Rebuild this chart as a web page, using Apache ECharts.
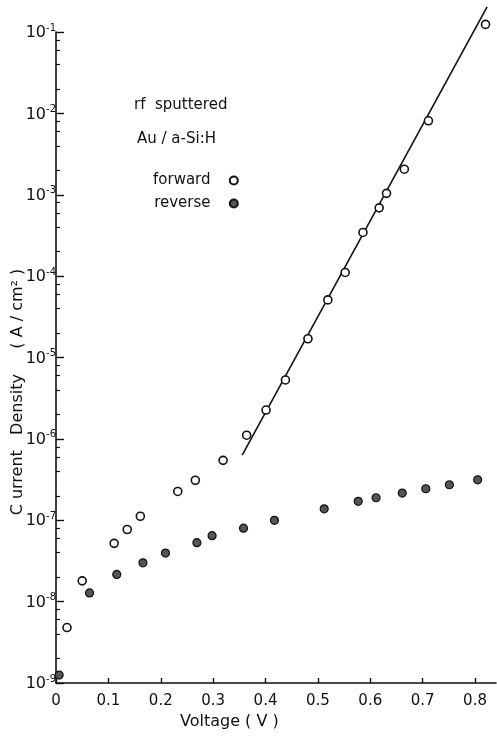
<!DOCTYPE html>
<html><head><meta charset="utf-8">
<script src="https://cdn.jsdelivr.net/npm/echarts@6/dist/echarts.min.js"></script>
<style>html,body{margin:0;padding:0;background:#fff}#c{width:497px;height:737px}</style>
</head><body><div id="c"></div>
<script>
// Forward bias (open circles)
const forwardV = [0.021, 0.050, 0.111, 0.136, 0.161, 0.2325, 0.266, 0.319, 0.364, 0.401, 0.438, 0.481, 0.519, 0.552, 0.586, 0.617, 0.631, 0.665, 0.711, 0.820];
const forwardJ = [4.8e-9, 1.8e-8, 5.2e-8, 7.7e-8, 1.12e-7, 2.26e-7, 3.1e-7, 5.45e-7, 1.11e-6, 2.26e-6, 5.3e-6, 1.7e-5, 5.1e-5, 1.11e-4, 3.44e-4, 6.9e-4, 1.04e-3, 2.06e-3, 8.1e-3, 0.124];
// Reverse bias (filled circles)
const reverseV = [0.006, 0.064, 0.116, 0.166, 0.209, 0.269, 0.298, 0.358, 0.417, 0.512, 0.577, 0.611, 0.661, 0.706, 0.751, 0.805];
const reverseJ = [1.25e-9, 1.28e-8, 2.16e-8, 3.0e-8, 3.95e-8, 5.3e-8, 6.46e-8, 8.0e-8, 9.97e-8, 1.38e-7, 1.71e-7, 1.89e-7, 2.16e-7, 2.44e-7, 2.73e-7, 3.14e-7];
// Fitted straight line (ends)
const fitV = [0.3555, 0.823];
const fitJ = [6.3e-7, 0.203];
// Tick labels
const xTicks = [0, 0.1, 0.2, 0.3, 0.4, 0.5, 0.6, 0.7, 0.8];
const xTickLabels = ['0', '0.1', '0.2', '0.3', '0.4', '0.5', '0.6', '0.7', '0.8'];
const yDecades = [1e-9, 1e-8, 1e-7, 1e-6, 1e-5, 1e-4, 1e-3, 1e-2, 1e-1];
const yExponents = ['-9', '-8', '-7', '-6', '-5', '-4', '-3', '-2', '-1'];
const minorMultipliers = [2, 4, 6, 8];

const yMinorTicks = [];
yDecades.slice(0, -1).forEach(d => minorMultipliers.forEach(m => yMinorTicks.push(d * m)));

const FONT = 'DejaVu Sans';
const chart = echarts.init(document.getElementById('c'), null, {renderer: 'canvas'});
chart.setOption({
  animation: false,
  backgroundColor: '#fff',
  textStyle: {fontFamily: FONT, color: '#111'},
  grid: {left: 56, right: 1, top: 32, bottom: 54, containLabel: false, outerBoundsMode: 'none'},
  xAxis: {
    type: 'value', min: 0, max: 0.84,
    axisLine: {lineStyle: {color: '#111', width: 1.6}},
    axisTick: {inside: true, length: 5, lineStyle: {color: '#111', width: 1.4}, customValues: xTicks},
    axisLabel: {
      customValues: xTicks, margin: 11, fontSize: 15, color: '#111', fontFamily: FONT,
      formatter: v => { const i = xTicks.findIndex(t => Math.abs(t - v) < 1e-6); return i >= 0 ? xTickLabels[i] : ''; }
    },
    splitLine: {show: false}
  },
  yAxis: [{
    type: 'log', logBase: 10, min: 1e-9, max: 1e-1,
    axisLine: {show: true, lineStyle: {color: '#111', width: 1.6}},
    axisTick: {show: true, inside: true, length: 8, lineStyle: {color: '#111', width: 1.4}},
    axisLabel: {
      margin: 0, color: '#111',
      formatter: v => { const i = yDecades.findIndex(d => Math.abs(Math.log10(d) - Math.log10(v)) < 1e-6); return i >= 0 ? '{b|10}{s|' + yExponents[i] + '}' : ''; },
      rich: {
        b: {fontSize: 16, fontFamily: FONT, color: '#111', verticalAlign: 'bottom', lineHeight: 18},
        s: {fontSize: 10, fontFamily: FONT, color: '#111', verticalAlign: 'top', padding: [0, 0, 8, 0]}
      }
    },
    splitLine: {show: false}
  }, {
    type: 'log', logBase: 10, min: 1e-9, max: 1e-1, position: 'left',
    axisLine: {show: false},
    axisTick: {show: true, inside: true, length: 4, lineStyle: {color: '#111', width: 1.2}, customValues: yMinorTicks},
    axisLabel: {show: false},
    splitLine: {show: false}
  }],
  legend: {
    data: ['forward', 'reverse'],
    orient: 'vertical', align: 'right',
    left: 148, top: 168,
    itemWidth: 8, itemHeight: 8, itemGap: 8,
    formatter: n => n + '   ',
    textStyle: {fontSize: 15, fontFamily: FONT, color: '#111'}
  },
  graphic: [
    {type: 'text', left: 134, top: 98, style: {text: 'rf  sputtered', fontSize: 15, fontFamily: FONT, fill: '#111'}},
    {type: 'text', left: 137, top: 132, style: {text: 'Au / a-Si:H', fontSize: 15, fontFamily: FONT, fill: '#111'}},
    {type: 'text', left: 180, top: 714, style: {text: 'Voltage ( V )', fontSize: 16, fontFamily: FONT, fill: '#111'}},
    {type: 'text', x: 18, y: 392, rotation: Math.PI / 2,
     style: {text: 'C urrent   Density     ( A / cm² )', fontSize: 16, fontFamily: FONT, fill: '#111', align: 'center', verticalAlign: 'middle'}}
  ],
  series: [
    {name: 'fit', type: 'line', data: fitV.map((v, i) => [v, fitJ[i]]), showSymbol: false, symbol: 'none', clip: false, silent: true,
     lineStyle: {color: '#111', width: 1.6}, z: 2},
    {name: 'forward', type: 'scatter', data: forwardV.map((v, i) => [v, forwardJ[i]]), symbol: 'circle', symbolSize: 8, clip: false,
     itemStyle: {color: '#fff', borderColor: '#111', borderWidth: 1.6, opacity: 1}, z: 3},
    {name: 'reverse', type: 'scatter', data: reverseV.map((v, i) => [v, reverseJ[i]]), symbol: 'circle', symbolSize: 8, clip: false,
     itemStyle: {color: '#555', borderColor: '#111', borderWidth: 1.2, opacity: 1}, z: 3}
  ]
});
</script></body></html>
